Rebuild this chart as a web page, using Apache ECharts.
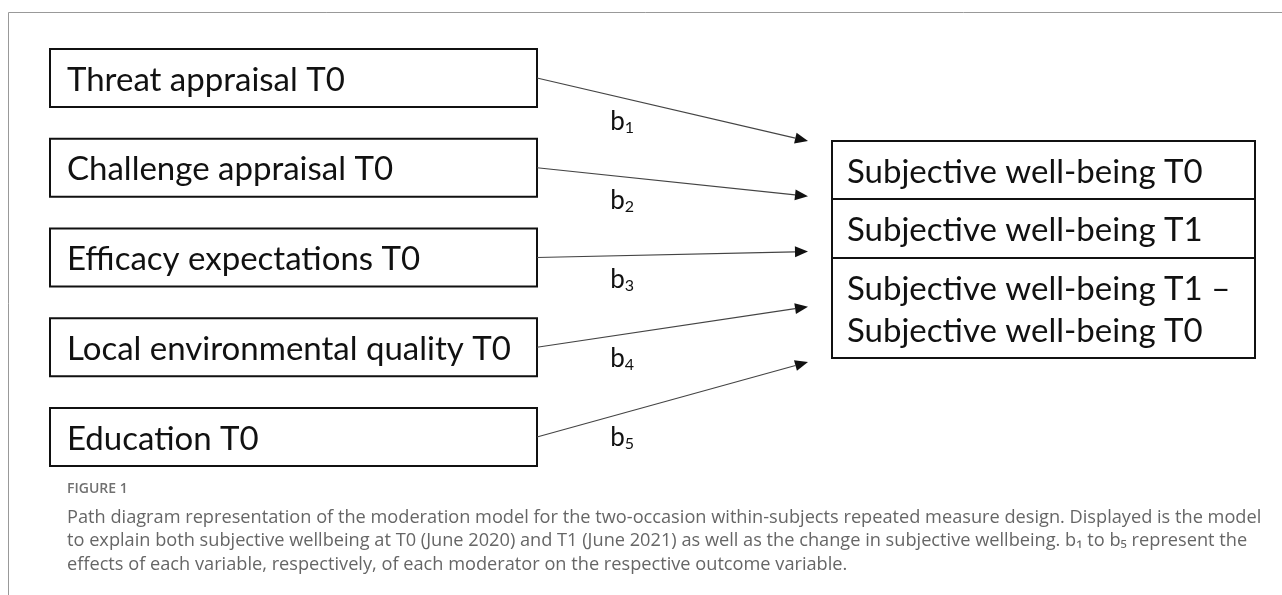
<!DOCTYPE html>
<html>
<head>
<meta charset="utf-8">
<script src="https://cdn.jsdelivr.net/npm/echarts@6/dist/echarts.min.js"></script>
<style>
  html, body { margin: 0; padding: 0; background: #fff; }
  #main { width: 1282px; height: 595px; }
</style>
</head>
<body>
<div id="main"></div>
<script>
// data
var predictors = [
  'Threat appraisal T0',
  'Challenge appraisal T0',
  'Efficacy expectations T0',
  'Local environmental quality T0',
  'Education T0'
];
var outcomes = [
  'Subjective well-being T0',
  'Subjective well-being T1',
  'Subjective well-being T1 –\nSubjective well-being T0'
];
var pathLabels = ['1', '2', '3', '4', '5'];
var captionTitle = 'FIGURE 1';
var captionLines = [
  'Path diagram representation of the moderation model for the two-occasion within-subjects repeated measure design. Displayed is the model',
  'to explain both subjective wellbeing at T0 (June 2020) and T1 (June 2021) as well as the change in subjective wellbeing. b\u2081 to b\u2085 represent the',
  'effects of each variable, respectively, of each moderator on the respective outcome variable.'
];

// layout (pixels)
var BOX_FONT = 'Lato, "Open Sans", sans-serif';
var BOX_FS = 33;
var leftBox = { x0: 50, x1: 537, top: 49, h: 58, step: 89.75 };
var rightBox = { x0: 832, x1: 1255, rows: [141, 199, 258, 358] };
var arrowEnd = { x: 808, top: 141, step: 55.25 };

var chart = echarts.init(document.getElementById('main'));

var leftData = predictors.map(function (name, i) {
  var y0 = leftBox.top + i * leftBox.step;
  return { name: name, value: [leftBox.x0, y0, leftBox.x1, y0 + leftBox.h] };
});
var rightData = outcomes.map(function (name, i) {
  return { name: name, value: [rightBox.x0, rightBox.rows[i], rightBox.x1, rightBox.rows[i + 1]] };
});
var pathData = pathLabels.map(function (n, i) {
  var ys = leftBox.top + i * leftBox.step + leftBox.h / 2;
  return { name: n, value: [leftBox.x1, ys, arrowEnd.x, arrowEnd.top + i * arrowEnd.step] };
});

function boxRenderer(names, padLeft, lineH) {
  return function (params, api) {
    var p0 = api.coord([api.value(0), api.value(1)]);
    var p1 = api.coord([api.value(2), api.value(3)]);
    return {
      type: 'group',
      children: [
        {
          type: 'rect',
          shape: { x: p0[0], y: p0[1], width: p1[0] - p0[0], height: p1[1] - p0[1] },
          style: { fill: '#fff', stroke: '#111', lineWidth: 2 }
        },
        {
          type: 'text',
          x: p0[0] + padLeft,
          y: (p0[1] + p1[1]) / 2 + 2,
          style: {
            text: names[params.dataIndex],
            fontFamily: BOX_FONT,
            fontSize: BOX_FS,
            lineHeight: lineH,
            fill: '#111',
            verticalAlign: 'middle'
          }
        }
      ]
    };
  };
}

function renderPath(params, api) {
  var a = api.coord([api.value(0), api.value(1)]);
  var b = api.coord([api.value(2), api.value(3)]);
  var dx = b[0] - a[0], dy = b[1] - a[1];
  var len = Math.sqrt(dx * dx + dy * dy);
  var ux = dx / len, uy = dy / len;
  var al = 13, aw = 5.5;
  var base = [b[0] - ux * al, b[1] - uy * al];
  var t = 0.314;
  var lx = a[0] + dx * t, ly = a[1] + dy * t + 24;
  return {
    type: 'group',
    children: [
      {
        type: 'line',
        shape: { x1: a[0], y1: a[1], x2: base[0], y2: base[1] },
        style: { stroke: '#444', lineWidth: 1.2 }
      },
      {
        type: 'polygon',
        shape: { points: [b, [base[0] - uy * aw, base[1] + ux * aw], [base[0] + uy * aw, base[1] - ux * aw]] },
        style: { fill: '#111' }
      },
      {
        type: 'text',
        x: lx,
        y: ly,
        style: {
          text: '{b|b}{s|' + pathLabels[params.dataIndex] + '}',
          align: 'center',
          verticalAlign: 'middle',
          rich: {
            b: { fontFamily: BOX_FONT, fontSize: 26, fill: '#111', lineHeight: 28 },
            s: { fontFamily: BOX_FONT, fontSize: 16, fill: '#111', lineHeight: 28, padding: [12, 0, 0, 0] }
          }
        }
      }
    ]
  };
}

var option = {
  animation: false,
  title: {
    text: captionTitle,
    subtext: captionLines.join('\n'),
    left: 67,
    top: 482,
    padding: 0,
    itemGap: 10,
    textStyle: { fontFamily: '"Open Sans", sans-serif', fontSize: 14, fontWeight: 600, color: '#707070' },
    subtextStyle: { fontFamily: '"Open Sans", sans-serif', fontSize: 18.2, lineHeight: 23.5, color: '#666' }
  },
  grid: { left: 0, right: 0, top: 0, bottom: 0 },
  xAxis: { type: 'value', min: 0, max: 1282, show: false },
  yAxis: { type: 'value', min: 0, max: 595, inverse: true, show: false },
  graphic: [
    { type: 'line', shape: { x1: 8.5, y1: 12.5, x2: 1282, y2: 12.5 }, style: { stroke: '#999', lineWidth: 1 } },
    { type: 'line', shape: { x1: 8.5, y1: 12.5, x2: 8.5, y2: 595 }, style: { stroke: '#999', lineWidth: 1 } }
  ],
  series: [
    {
      type: 'custom',
      name: 'predictors',
      renderItem: boxRenderer(predictors, 17, 36),
      encode: { x: [0, 2], y: [1, 3] },
      data: leftData
    },
    {
      type: 'custom',
      name: 'outcomes',
      renderItem: boxRenderer(outcomes, 15, 42),
      encode: { x: [0, 2], y: [1, 3] },
      data: rightData
    },
    {
      type: 'custom',
      name: 'paths',
      renderItem: renderPath,
      encode: { x: [0, 2], y: [1, 3] },
      data: pathData
    }
  ]
};

chart.setOption(option);
window.addEventListener('resize', function () {
  chart.resize();
});
</script>
</body>
</html>
